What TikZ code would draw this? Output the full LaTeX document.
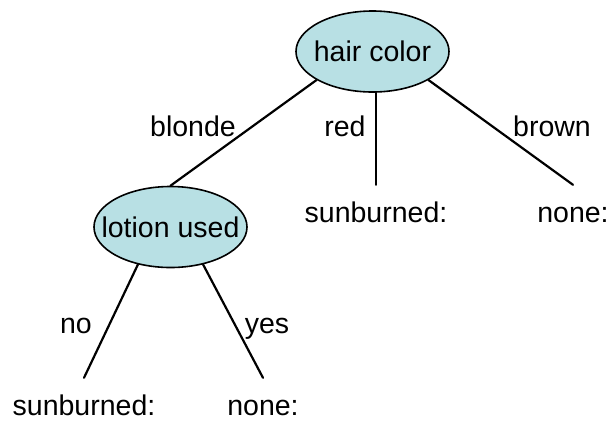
\documentclass[tikz,border=0pt]{standalone}
\usepackage{fontspec}
\setmainfont{Liberation Sans}
\usetikzlibrary{shapes.geometric}
\definecolor{nodefill}{RGB}{184,224,228}
\begin{document}
\begin{tikzpicture}[x=1pt,y=-1pt,
  font=\fontsize{28.5}{34}\selectfont,
  test/.style={ellipse, draw=black, line width=1.6pt, fill=nodefill,
               inner ysep=0pt, minimum width=153pt, minimum height=81pt},
  % the tall text box leaves a gap between each branch line and its leaf
  leaf/.style={anchor=base, inner sep=0pt, text height=37pt, text depth=0pt},
  branch/.style={anchor=base, inner sep=0pt},
  edge/.style={line width=2.2pt, line cap=round}]
  \useasboundingbox (0,0) rectangle (612,421);

  % decision nodes (negative side padding keeps the ellipses snug)
  \node[test, inner xsep=-8pt] (hair) at (372.5,51.5) {hair color};
  \node[test, inner xsep=-19.5pt] (lotion) at (170.5,227) {lotion used};

  % outcome leaves
  \node[leaf] (redleaf) at (376,222) {sunburned:};
  \node[leaf] (brownleaf) at (573,222) {none:};
  \node[leaf] (noleaf) at (84,415) {sunburned:};
  \node[leaf] (yesleaf) at (263,415) {none:};

  % branch values
  \node[branch] (blonde) at (193,136) {blonde};
  \node[branch] (red) at (345,136) {red};
  \node[branch] (brown) at (552,136) {brown};
  \node[branch] (no) at (76,333) {no};
  \node[branch] (yes) at (267,333) {yes};

  % connectors
  \draw[edge] (hair.207) -- (lotion.north);
  \draw[edge] (hair.south -| redleaf.north) -- (redleaf.north);
  \draw[edge] (hair.333.4) -- (brownleaf.north);
  \draw[edge] (lotion.229.3) -- (noleaf.north);
  \draw[edge] (lotion.311.5) -- (yesleaf.north);
\end{tikzpicture}
\end{document}
